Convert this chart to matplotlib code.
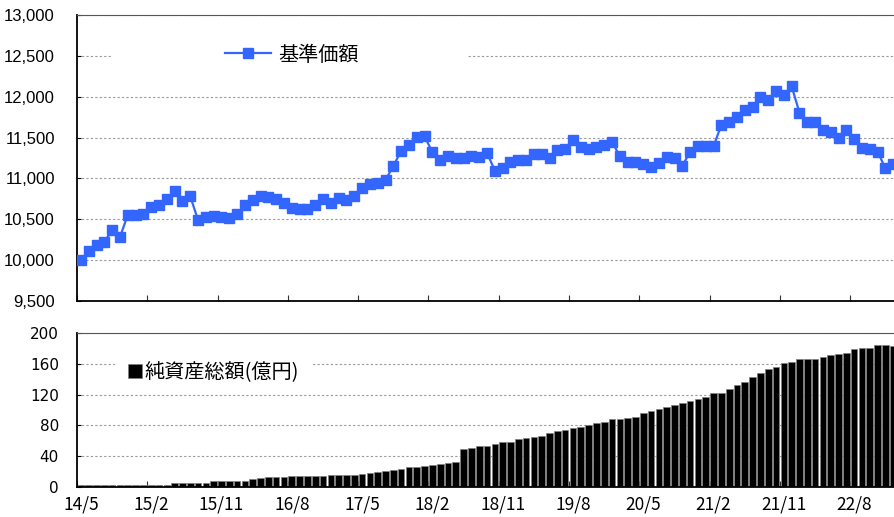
import matplotlib
matplotlib.use("Agg")
import matplotlib.pyplot as plt
from matplotlib.patches import Rectangle
import numpy as np

# monthly data, 2014/5 .. 2023/1
nav = [10000, 10110, 10180, 10225, 10365, 10280, 10555, 10555, 10560, 10645,
       10680, 10745, 10850, 10720, 10780, 10490, 10525, 10540, 10525, 10510,
       10560, 10680, 10735, 10780, 10770, 10750, 10700, 10635, 10620, 10630,
       10680, 10745, 10700, 10760, 10730, 10785, 10880, 10935, 10950, 10985,
       11150, 11340, 11410, 11510, 11515, 11320, 11220, 11270, 11250, 11250,
       11280, 11260, 11310, 11095, 11125, 11195, 11225, 11230, 11305, 11295,
       11250, 11350, 11360, 11470, 11390, 11360, 11380, 11415, 11450, 11270,
       11205, 11205, 11175, 11135, 11185, 11260, 11250, 11155, 11325, 11395,
       11395, 11395, 11655, 11685, 11750, 11840, 11880, 12000, 11960, 12075,
       12015, 12125, 11805, 11685, 11695, 11590, 11570, 11500, 11590, 11480,
       11370, 11355, 11325, 11125, 11175]

assets = [2.3, 2.3, 2.3, 2.3, 2.3, 2.3, 2.3, 2.3, 2.3, 2.0,
          2.3, 2.8, 4.8, 4.8, 4.8, 4.8, 4.8, 7.4, 7.4, 7.4,
          7.4, 7.4, 10.0, 11.7, 13.0, 13.4, 13.6, 13.8, 14.0, 14.3,
          14.6, 14.8, 15.0, 15.2, 15.4, 15.6, 16.5, 17.8, 19.5, 21.2,
          22.0, 23.4, 25.5, 26.0, 27.3, 28.6, 29.9, 30.7, 32.5, 49.0,
          50.2, 52.8, 53.3, 55.4, 58.0, 58.9, 62.0, 63.2, 65.4, 66.2,
          69.7, 72.7, 73.6, 76.2, 77.5, 80.1, 82.7, 84.8, 87.9, 87.9,
          89.0, 90.5, 95.7, 98.3, 100.9, 104.3, 106.5, 109.5, 111.7, 113.9,
          117.3, 121.7, 121.7, 127.3, 132.5, 136.0, 143.3, 148.0, 152.9, 155.5,
          160.7, 162.8, 166.7, 165.9, 165.9, 169.3, 171.5, 172.8, 174.5, 179.3,
          180.2, 181.0, 184.1, 184.5, 183.2]

tick_labels = ['14/5', '15/2', '15/11', '16/8', '17/5', '18/2', '18/11',
               '19/8', '20/5', '21/2', '21/11', '22/8']

x = np.arange(len(nav))
label_pos = np.arange(len(tick_labels)) * 9
tick_pos = label_pos - 0.5

jp = 'Noto Sans CJK JP'

fig = plt.figure(figsize=(8.94, 5.17), dpi=100)
ax1 = fig.add_axes([77/894, 1-301/517, 817/894, 286/517])
ax2 = fig.add_axes([77/894, 1-487/517, 817/894, 154/517])

for ax in (ax1, ax2):
    ax.set_xlim(-0.5, 104.1)
    ax.set_axisbelow(True)
    ax.spines['right'].set_visible(False)
    ax.spines['top'].set_color('#555555')
    ax.spines['left'].set_linewidth(1.3)
    ax.spines['bottom'].set_linewidth(1.3)
    ax.grid(axis='y', color='#999999', linestyle=(0, (2, 2)), linewidth=0.8)
    ax.set_xticks(tick_pos)
    ax.tick_params(axis='x', which='major', direction='in', length=4,
                   labelbottom=False, color='#333333')
    ax.tick_params(axis='y', direction='in', length=3)

# top panel
ax1.plot(x, nav, color='#3366FF', lw=1.6, marker='s', markersize=7.5,
         markeredgecolor='#3366FF', label='基準価額', zorder=3)
ax1.set_ylim(9500, 13000)
ax1.set_yticks(np.arange(9500, 13001, 500))
ax1.set_yticklabels([f'{v:,}' for v in range(9500, 13001, 500)],
                    fontfamily='Liberation Sans', fontsize=12)
ax1.tick_params(axis='y', pad=16)
ax1.add_patch(Rectangle((0.042, 0.80), 0.435, 0.12, transform=ax1.transAxes,
                        facecolor='white', edgecolor='none', zorder=1))
leg1 = ax1.legend(loc='center left', bbox_to_anchor=(0.181, 0.86),
                  frameon=False, borderpad=0, borderaxespad=0,
                  handlelength=2.3, handletextpad=0.35,
                  prop={'family': jp, 'size': 14.5})

# bottom panel
ax2.bar(x, assets, width=0.85, color='black', edgecolor='#808080',
        linewidth=0.5, label='純資産総額(億円)', zorder=2)
ax2.set_ylim(0, 200)
ax2.set_yticks(np.arange(0, 201, 40))
ax2.set_yticklabels([str(v) for v in range(0, 201, 40)],
                    fontfamily='DejaVu Sans', fontsize=11)
ax2.tick_params(axis='y', pad=13)
ax2.set_xticks(label_pos, minor=True)
ax2.set_xticklabels(tick_labels, minor=True, fontfamily=jp, fontsize=12.5)
ax2.tick_params(axis='x', which='minor', length=0, pad=6)
ax2.add_patch(Rectangle((0.0465, 0.66), 0.2425, 0.19, transform=ax2.transAxes,
                        facecolor='white', edgecolor='none', zorder=1))
leg2 = ax2.legend(loc='center left', bbox_to_anchor=(0.0624, 0.745),
                  frameon=False, borderpad=0, borderaxespad=0,
                  handlelength=0.7, handleheight=0.7, handletextpad=0.1,
                  prop={'family': jp, 'size': 14.5})

fig.savefig('out.png', dpi=100)
